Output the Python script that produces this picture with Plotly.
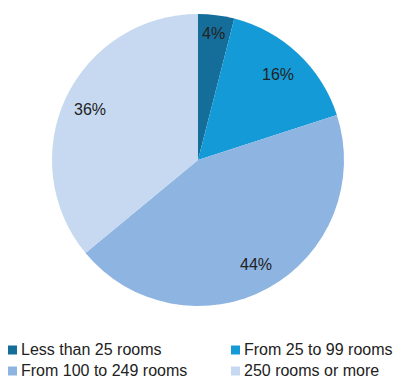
import math
import plotly.graph_objects as go

# Share of hotels by size
labels = ["Less than 25 rooms", "From 25 to 99 rooms", "From 100 to 249 rooms", "250 rooms or more"]
values = [4, 16, 44, 36]
colors = ["#156d99", "#149bd7", "#8eb4e2", "#c6d9f0"]

W, H = 406, 380
# pie geometry in pixels
cx, cy, R = 198, 160, 146
label_r = [0.87, 0.80, 0.82, 0.82]

fig = go.Figure()
fig.add_trace(go.Pie(
    labels=labels,
    values=values,
    sort=False,
    direction="clockwise",
    rotation=0,
    marker=dict(colors=colors, line=dict(width=0)),
    textinfo="none",
    hoverinfo="label+percent",
    showlegend=False,
    domain=dict(x=[(cx - R) / W, (cx + R) / W], y=[1 - (cy + R) / H, 1 - (cy - R) / H]),
))

# percentage labels placed at the middle angle of each slice
total = sum(values)
cum = 0
for v, rr in zip(values, label_r):
    mid = (cum + v / 2) / total * 2 * math.pi
    cum += v
    px = cx + rr * R * math.sin(mid)
    py = cy - rr * R * math.cos(mid)
    fig.add_annotation(
        x=px / W, y=1 - py / H, xref="paper", yref="paper",
        text=f"{round(v / total * 100)}%", showarrow=False,
        font=dict(family="Arial, Liberation Sans", size=16, color="#222222"),
        xanchor="center", yanchor="middle",
    )

# legend: two columns, two rows
col_x = [8, 231]
row_y = [349, 370]
sq = 9
for i, (lab, col) in enumerate(zip(labels, colors)):
    lx = col_x[i % 2]
    ly = row_y[i // 2]
    fig.add_shape(
        type="rect", xref="paper", yref="paper",
        x0=lx / W, x1=(lx + sq) / W,
        y0=1 - (ly + 1 + sq / 2) / H, y1=1 - (ly + 1 - sq / 2) / H,
        fillcolor=col, line=dict(width=0),
    )
    fig.add_annotation(
        x=(lx + sq + 3) / W, y=1 - ly / H, xref="paper", yref="paper",
        text=lab, showarrow=False, xanchor="left", yanchor="middle",
        borderpad=0,
        font=dict(family="Arial, Liberation Sans", size=16, color="#222222"),
    )

fig.update_layout(
    width=W, height=H,
    margin=dict(l=0, r=0, t=0, b=0),
    paper_bgcolor="white",
    plot_bgcolor="white",
)

fig.write_html("out.html", config={"displayModeBar": False})
